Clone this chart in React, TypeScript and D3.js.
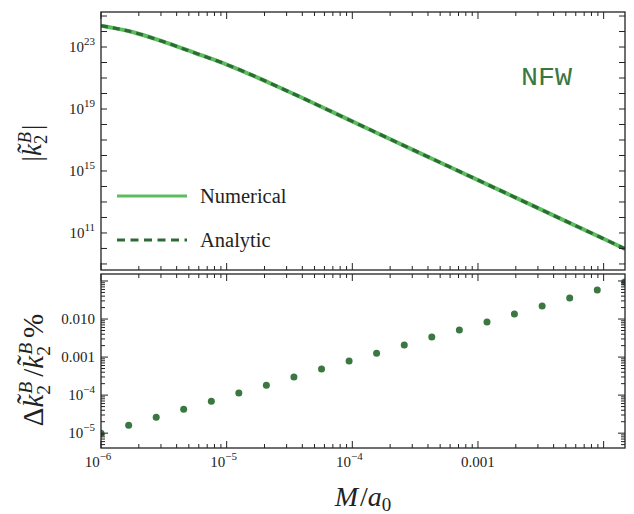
import React from 'react';
import * as d3 from 'd3';

// curve |k2^B| vs M/a0
const curveM = [1e-6, 1.78e-6, 3.16e-6, 5.62e-6, 1e-5, 3.16e-5, 1e-4, 3.16e-4, 1e-3, 3.16e-3, 1e-2, 1.48e-2];
const curveK = [2.37e24, 9.3e23, 2.16e23, 4.1e22, 7.4e21, 1.25e20, 1.58e18, 2.0e16, 2.59e14, 3.3e12, 4.2e10, 9.4e9];

// relative difference points (%)
const diffM = [1e-6, 1.66e-6, 2.75e-6, 4.55e-6, 7.55e-6, 1.25e-5, 2.07e-5, 3.43e-5, 5.69e-5, 9.43e-5,
  1.56e-4, 2.59e-4, 4.29e-4, 7.11e-4, 1.18e-3, 1.95e-3, 3.24e-3, 5.37e-3, 8.9e-3, 1.47e-2];
const diffV = [1.0e-5, 1.62e-5, 2.64e-5, 4.28e-5, 6.95e-5, 1.13e-4, 1.83e-4, 2.98e-4, 4.83e-4, 7.85e-4,
  1.27e-3, 2.07e-3, 3.36e-3, 5.14e-3, 8.34e-3, 1.35e-2, 2.2e-2, 3.57e-2, 5.8e-2, 9.4e-2];

const xTickExp = [-6, -5, -4, -3];
const xTickText = ['10', '10', '10', '0.001'];
const xTickSup = ['−6', '−5', '−4', ''];
const topLabelExp = [11, 15, 19, 23];
const botTickExp = [-5, -4, -3, -2];
const botTickText = ['10', '10', '0.001', '0.010'];
const botTickSup = ['−5', '−4', '', ''];

const W = 634, H = 514;
const left = 101, right = 625;
const topT = 12, topB = 270;
const botT = 274, botB = 448;

const light = '#5cbd5f';
const dark = '#2e6a36';
const dot = '#3a7741';
const serif = "'Liberation Serif', 'Times New Roman', Times, 'DejaVu Serif', serif";
const mono = "'Liberation Mono', 'DejaVu Sans Mono', monospace";

function minorTicks(lo: number, hi: number) {
  const out: number[] = [];
  for (let e = Math.floor(Math.log10(lo)); e <= Math.ceil(Math.log10(hi)); e++) {
    for (let m = 1; m <= 9; m++) {
      const v = m * Math.pow(10, e);
      if (v >= lo * 0.9999 && v <= hi * 1.0001) out.push(v);
    }
  }
  return out;
}

export default function App() {
  const x = d3.scaleLog().domain([1e-6, Math.pow(10, -1.83)]).range([left, right]);
  const yTop = d3.scaleLog().domain([Math.pow(10, 8.61), Math.pow(10, 25.26)]).range([topB, topT]);
  const yBot = d3.scaleLog().domain([Math.pow(10, -5.39), Math.pow(10, -0.816)]).range([botB, botT]);

  const pts = curveM.map((m, i) => [m, curveK[i]] as [number, number]);
  const line = d3.line<[number, number]>()
    .x(d => x(d[0]))
    .y(d => yTop(d[1]))
    .curve(d3.curveMonotoneX);
  const path = line(pts) || '';

  const xMinor = minorTicks(1e-6, Math.pow(10, -1.83));
  const topDecades = d3.range(9, 26).map(e => Math.pow(10, e));
  const botMinor = minorTicks(Math.pow(10, -5.39), Math.pow(10, -0.816));

  const tickStroke = '#222';
  const sty = { fontFamily: serif };

  const xTicks = (y0: number, y1: number) => (
    <g>
      {xMinor.map((v, i) => {
        const major = Math.abs(Math.log10(v) - Math.round(Math.log10(v))) < 1e-6;
        const len = major ? 7 : 4;
        return (
          <g key={i}>
            <line x1={x(v)} x2={x(v)} y1={y1} y2={y1 - len} stroke={tickStroke} strokeWidth={1} />
            <line x1={x(v)} x2={x(v)} y1={y0} y2={y0 + len} stroke={tickStroke} strokeWidth={1} />
          </g>
        );
      })}
    </g>
  );

  // k-tilde with superscript B and subscript 2, followed by text back on the baseline
  const kt = (key: string, fs: number, after: string, gap: number) => (
    <React.Fragment key={key}>
      <tspan fontStyle="italic">k̃</tspan>
      <tspan dx={1} dy={-0.38 * fs} fontSize={0.68 * fs} fontStyle="italic">B</tspan>
      <tspan dx={-0.45 * fs} dy={0.62 * fs} fontSize={0.68 * fs}>2</tspan>
      <tspan dx={gap} dy={-0.24 * fs}>{after}</tspan>
    </React.Fragment>
  );

  return (
    <svg width={W} height={H} style={{ position: 'absolute', left: 0, top: 0 }}>
      <defs>
        <clipPath id="topClip"><rect x={left} y={topT} width={right - left} height={topB - topT} /></clipPath>
        <clipPath id="botClip"><rect x={left} y={botT} width={right - left} height={botB - botT} /></clipPath>
      </defs>
      <rect width={W} height={H} fill="white" />

      {/* top panel */}
      <g clipPath="url(#topClip)">
        <path d={path} fill="none" stroke={light} strokeWidth={4} />
        <path d={path} fill="none" stroke={dark} strokeWidth={3.2} strokeDasharray="7,5" />
      </g>
      {xTicks(topT, topB)}
      {topDecades.map((v, i) => (
        <g key={i}>
          <line x1={left} x2={left + 6} y1={yTop(v)} y2={yTop(v)} stroke={tickStroke} />
          <line x1={right} x2={right - 6} y1={yTop(v)} y2={yTop(v)} stroke={tickStroke} />
        </g>
      ))}
      {topLabelExp.map((e, i) => (
        <text key={i} x={left - 6} y={yTop(Math.pow(10, e)) + 5} textAnchor="end" style={sty} fontSize={15} fill="#222">
          10<tspan dy={-7} fontSize={11}>{e}</tspan>
        </text>
      ))}
      <rect x={left} y={topT} width={right - left} height={topB - topT} fill="none" stroke="#222" strokeWidth={1.3} />

      <text x={521} y={85} textLength={51} lengthAdjust="spacingAndGlyphs" style={{ fontFamily: mono }} fontSize={26} fill={dot}>NFW</text>

      {/* legend */}
      <line x1={117} x2={187} y1={196} y2={196} stroke={light} strokeWidth={3.2} />
      <text x={200} y={203} style={sty} fontSize={20.5} fill="#222">Numerical</text>
      <line x1={117} x2={187} y1={240} y2={240} stroke={dark} strokeWidth={3.2} strokeDasharray="8,5.5" />
      <text x={200} y={247} style={sty} fontSize={20.5} fill="#222">Analytic</text>

      {/* top y label */}
      <text transform={`translate(41,143) rotate(-90)`} textAnchor="middle" style={sty} fontSize={27} fill="#222">
        <tspan dx={0}>|</tspan><tspan dx={2}>{''}</tspan>{kt('a', 27, '|', 5)}
      </text>

      {/* bottom panel */}
      <g clipPath="url(#botClip)">
        {diffM.map((m, i) => (
          <circle key={i} cx={x(m)} cy={yBot(diffV[i])} r={3.5} fill={dot} />
        ))}
      </g>
      {xTicks(botT, botB)}
      {botMinor.map((v, i) => {
        const major = Math.abs(Math.log10(v) - Math.round(Math.log10(v))) < 1e-6;
        const len = major ? 7 : 4;
        return (
          <g key={i}>
            <line x1={left} x2={left + len} y1={yBot(v)} y2={yBot(v)} stroke={tickStroke} />
            <line x1={right} x2={right - len} y1={yBot(v)} y2={yBot(v)} stroke={tickStroke} />
          </g>
        );
      })}
      {botTickExp.map((e, i) => (
        <text key={i} x={left - 6} y={yBot(Math.pow(10, e)) + 5} textAnchor="end" style={sty} fontSize={15} fill="#222">
          {botTickText[i]}{botTickSup[i] && <tspan dy={-7} fontSize={11}>{botTickSup[i]}</tspan>}
        </text>
      ))}
      <rect x={left} y={botT} width={right - left} height={botB - botT} fill="none" stroke="#222" strokeWidth={1.3} />
      {xTickExp.map((e, i) => (
        <text key={i} x={x(Math.pow(10, e)) - (xTickSup[i] ? 3 : 0)} y={467} textAnchor="middle" style={sty} fontSize={15} fill="#222">
          {xTickText[i]}{xTickSup[i] && <tspan dy={-7} fontSize={11}>{xTickSup[i]}</tspan>}
        </text>
      ))}

      {/* bottom y label */}
      <text transform={`translate(43,370) rotate(-90)`} textAnchor="middle" style={sty} fontSize={29} fill="#222">
        Δ{kt('b', 29, '/', 8)}<tspan dx={3}>{''}</tspan>{kt('c', 29, '%', 8)}
      </text>

      {/* x label */}
      <text x={363} y={506} textAnchor="middle" style={sty} fontSize={28} fill="#222">
        <tspan fontStyle="italic">M</tspan><tspan dx={2}>/</tspan><tspan fontStyle="italic">a</tspan><tspan dy={5} fontSize={19}>0</tspan>
      </text>
    </svg>
  );
}
